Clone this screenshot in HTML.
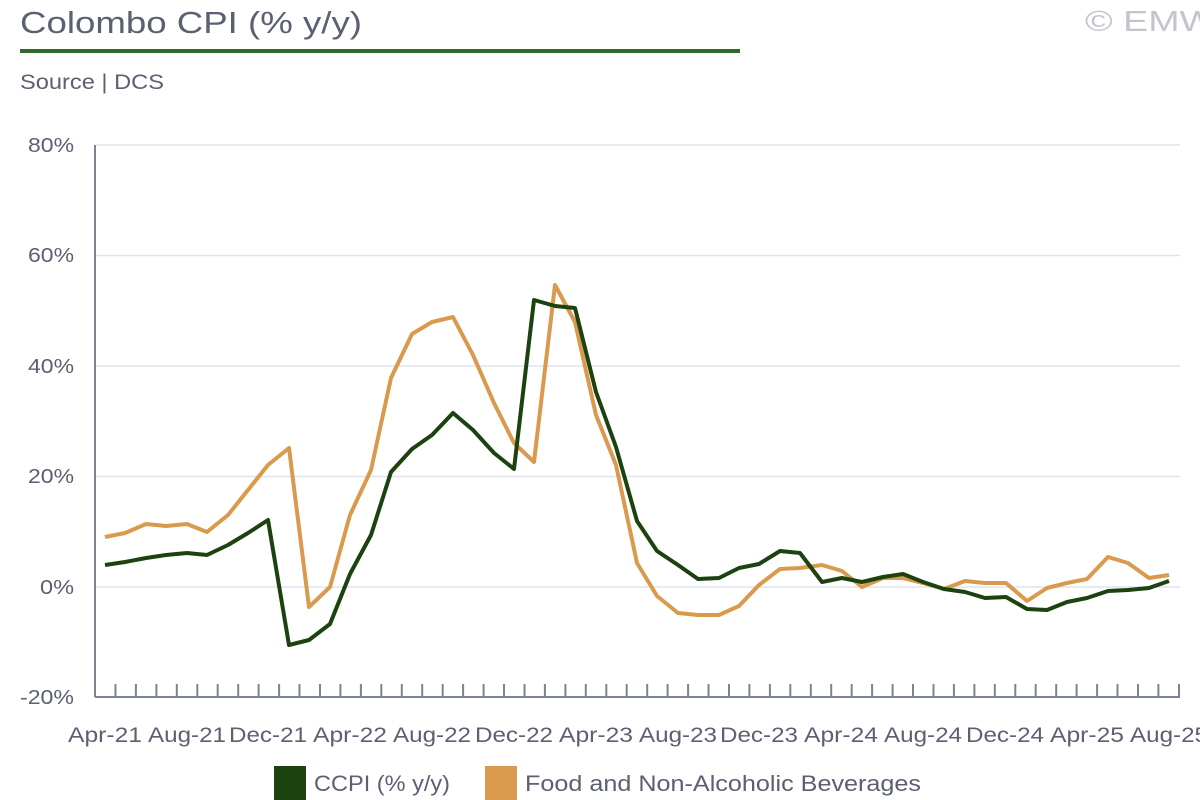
<!DOCTYPE html>
<html><head><meta charset="utf-8"><style>
body{margin:0;background:#fff;}
svg{display:block;font-family:"Liberation Sans",sans-serif;}
</style></head><body>
<svg width="1200" height="800" viewBox="0 0 1200 800">
<text x="20" y="33" font-size="31" fill="#5b6072" textLength="342" lengthAdjust="spacingAndGlyphs">Colombo CPI (% y/y)</text>
<rect x="20" y="49" width="720" height="4" fill="#2e6a2b"/>
<text x="1085" y="31" font-size="29" fill="#c4c5cc" textLength="130" lengthAdjust="spacingAndGlyphs">© EMW</text>
<text x="20" y="89" font-size="21" fill="#5b6072" textLength="144" lengthAdjust="spacingAndGlyphs">Source | DCS</text>
<g stroke="#dde4ee" stroke-width="1.5">
<line x1="95" y1="145" x2="1180" y2="145"/>
<line x1="95" y1="255.5" x2="1180" y2="255.5"/>
<line x1="95" y1="366" x2="1180" y2="366"/>
<line x1="95" y1="476.5" x2="1180" y2="476.5"/>
<line x1="95" y1="587" x2="1180" y2="587"/>
</g>
<g font-size="20" fill="#5b6072" text-anchor="end">
<text x="74" y="152" textLength="46" lengthAdjust="spacingAndGlyphs">80%</text>
<text x="74" y="262" textLength="46" lengthAdjust="spacingAndGlyphs">60%</text>
<text x="74" y="373" textLength="46" lengthAdjust="spacingAndGlyphs">40%</text>
<text x="74" y="483" textLength="46" lengthAdjust="spacingAndGlyphs">20%</text>
<text x="74" y="594" textLength="34" lengthAdjust="spacingAndGlyphs">0%</text>
<text x="74" y="704" textLength="54" lengthAdjust="spacingAndGlyphs">-20%</text>
</g>
<g stroke="#7a8296" stroke-width="2" fill="none">
<line x1="95" y1="145" x2="95" y2="697"/>
<line x1="95" y1="697" x2="1180" y2="697"/>
</g>
<g stroke="#7a8296" stroke-width="2">
<line x1="115.5" y1="684" x2="115.5" y2="697"/><line x1="135.9" y1="684" x2="135.9" y2="697"/><line x1="156.4" y1="684" x2="156.4" y2="697"/><line x1="176.8" y1="684" x2="176.8" y2="697"/><line x1="197.3" y1="684" x2="197.3" y2="697"/><line x1="217.7" y1="684" x2="217.7" y2="697"/><line x1="238.2" y1="684" x2="238.2" y2="697"/><line x1="258.6" y1="684" x2="258.6" y2="697"/><line x1="279.1" y1="684" x2="279.1" y2="697"/><line x1="299.5" y1="684" x2="299.5" y2="697"/><line x1="320" y1="684" x2="320" y2="697"/><line x1="340.4" y1="684" x2="340.4" y2="697"/><line x1="360.9" y1="684" x2="360.9" y2="697"/><line x1="381.3" y1="684" x2="381.3" y2="697"/><line x1="401.8" y1="684" x2="401.8" y2="697"/><line x1="422.2" y1="684" x2="422.2" y2="697"/><line x1="442.7" y1="684" x2="442.7" y2="697"/><line x1="463.1" y1="684" x2="463.1" y2="697"/><line x1="483.6" y1="684" x2="483.6" y2="697"/><line x1="504" y1="684" x2="504" y2="697"/><line x1="524.5" y1="684" x2="524.5" y2="697"/><line x1="544.9" y1="684" x2="544.9" y2="697"/><line x1="565.4" y1="684" x2="565.4" y2="697"/><line x1="585.8" y1="684" x2="585.8" y2="697"/><line x1="606.3" y1="684" x2="606.3" y2="697"/><line x1="626.7" y1="684" x2="626.7" y2="697"/><line x1="647.2" y1="684" x2="647.2" y2="697"/><line x1="667.6" y1="684" x2="667.6" y2="697"/><line x1="688.1" y1="684" x2="688.1" y2="697"/><line x1="708.5" y1="684" x2="708.5" y2="697"/><line x1="729" y1="684" x2="729" y2="697"/><line x1="749.4" y1="684" x2="749.4" y2="697"/><line x1="769.9" y1="684" x2="769.9" y2="697"/><line x1="790.3" y1="684" x2="790.3" y2="697"/><line x1="810.8" y1="684" x2="810.8" y2="697"/><line x1="831.2" y1="684" x2="831.2" y2="697"/><line x1="851.7" y1="684" x2="851.7" y2="697"/><line x1="872.1" y1="684" x2="872.1" y2="697"/><line x1="892.6" y1="684" x2="892.6" y2="697"/><line x1="913" y1="684" x2="913" y2="697"/><line x1="933.5" y1="684" x2="933.5" y2="697"/><line x1="953.9" y1="684" x2="953.9" y2="697"/><line x1="974.4" y1="684" x2="974.4" y2="697"/><line x1="994.8" y1="684" x2="994.8" y2="697"/><line x1="1015.3" y1="684" x2="1015.3" y2="697"/><line x1="1035.7" y1="684" x2="1035.7" y2="697"/><line x1="1056.2" y1="684" x2="1056.2" y2="697"/><line x1="1076.6" y1="684" x2="1076.6" y2="697"/><line x1="1097.1" y1="684" x2="1097.1" y2="697"/><line x1="1117.5" y1="684" x2="1117.5" y2="697"/><line x1="1138" y1="684" x2="1138" y2="697"/><line x1="1158.4" y1="684" x2="1158.4" y2="697"/><line x1="1179" y1="684" x2="1179" y2="697"/>
</g>
<g font-size="21" fill="#5b6072" text-anchor="middle">
<text x="105" y="742" textLength="74" lengthAdjust="spacingAndGlyphs">Apr-21</text><text x="187" y="742" textLength="78" lengthAdjust="spacingAndGlyphs">Aug-21</text><text x="268" y="742" textLength="78" lengthAdjust="spacingAndGlyphs">Dec-21</text><text x="350" y="742" textLength="74" lengthAdjust="spacingAndGlyphs">Apr-22</text><text x="432" y="742" textLength="78" lengthAdjust="spacingAndGlyphs">Aug-22</text><text x="514" y="742" textLength="78" lengthAdjust="spacingAndGlyphs">Dec-22</text><text x="596" y="742" textLength="74" lengthAdjust="spacingAndGlyphs">Apr-23</text><text x="678" y="742" textLength="78" lengthAdjust="spacingAndGlyphs">Aug-23</text><text x="759" y="742" textLength="78" lengthAdjust="spacingAndGlyphs">Dec-23</text><text x="841" y="742" textLength="74" lengthAdjust="spacingAndGlyphs">Apr-24</text><text x="923" y="742" textLength="78" lengthAdjust="spacingAndGlyphs">Aug-24</text><text x="1005" y="742" textLength="78" lengthAdjust="spacingAndGlyphs">Dec-24</text><text x="1087" y="742" textLength="74" lengthAdjust="spacingAndGlyphs">Apr-25</text><text x="1169" y="742" textLength="78" lengthAdjust="spacingAndGlyphs">Aug-25</text>
</g>
<polyline fill="none" stroke="#da9a4e" stroke-width="4" stroke-linejoin="round" points="105,537 125,533 146,524 166,526 187,524 207,532 228,515 248,490 268,465 289,448 309,607 330,587 350,515 371,470 391,378 412,334 432,322 453,317 473,355 494,403 514,443 534,462 555,285 575,322 596,415 616,465 637,563 657,596 678,613 698,615 719,615 739,606 759,585 780,569 800,568 822,565 842,571 862,587 883,578 903,578 923,583 944,589 965,581 985,583 1006,583 1027,601 1047,588 1067,583 1087,579 1108,557 1128,563 1149,578 1169,575"/>
<polyline fill="none" stroke="#1c4210" stroke-width="4" stroke-linejoin="round" points="105,565 125,562 146,558 166,555 187,553 207,555 228,545 248,533 268,520 289,645 309,640 330,624 350,574 371,535 391,472 412,449 432,435 453,413 473,430 494,453 514,469 534,300 555,306 575,308 596,392 616,447 637,521 657,551 678,565 698,579 719,578 739,568 759,564 780,551 800,553 822,582 842,578 862,582 883,577 903,574 923,582 944,589 965,592 985,598 1006,597 1027,609 1047,610 1067,602 1087,598 1108,591 1128,590 1149,588 1169,581"/>
<rect x="274" y="766" width="32" height="34" fill="#1c4210"/>
<text x="314" y="791" font-size="22" fill="#5b6072" textLength="136" lengthAdjust="spacingAndGlyphs">CCPI (% y/y)</text>
<rect x="485" y="766" width="32" height="34" fill="#da9a4e"/>
<text x="525" y="791" font-size="22" fill="#5b6072" textLength="396" lengthAdjust="spacingAndGlyphs">Food and Non-Alcoholic Beverages</text>
</svg>
</body></html>
